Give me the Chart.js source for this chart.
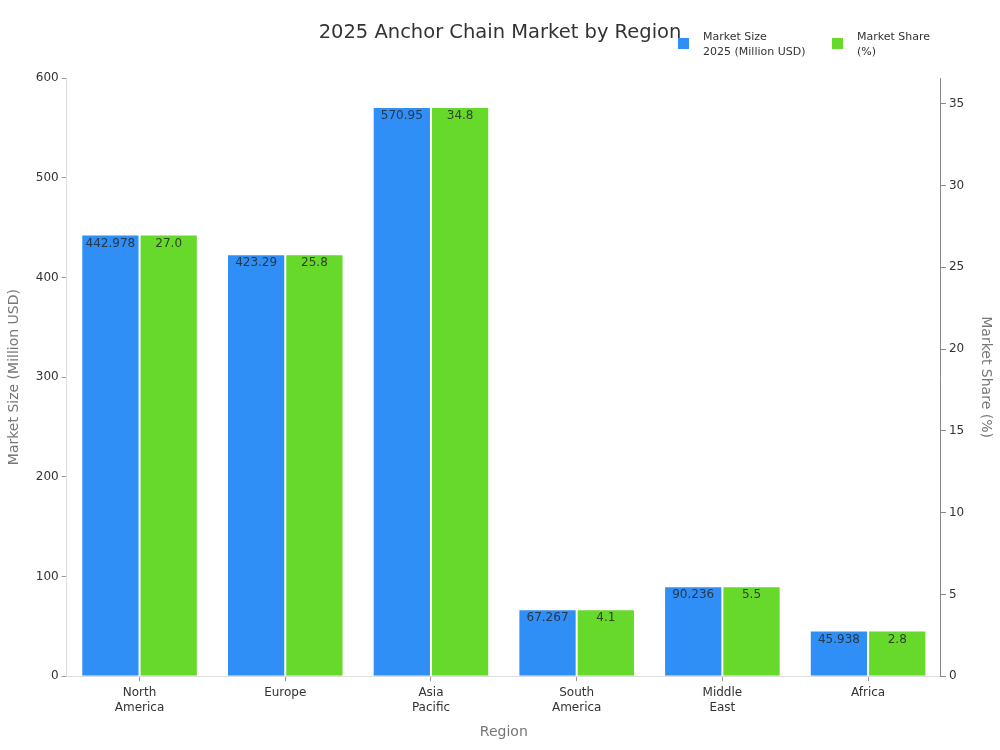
<!DOCTYPE html>
<html lang="en">
<head>
    <meta charset="UTF-8" />
    <title>2025 Anchor Chain Market by Region</title>
    <script src="https://cdn.jsdelivr.net/npm/chart.js"></script>
    <style>
        html, body { margin: 0; padding: 0; background: #fff; }
        #box { width: 1000px; height: 750px; }
    </style>
</head>
<body>
    <div id="box"><canvas id="grafico"></canvas></div>
<script>
    // dados
    const regioes = [['North', 'America'], 'Europe', ['Asia', 'Pacific'], ['South', 'America'], ['Middle', 'East'], 'Africa'];
    const tamanhoMercado = [442.978, 423.29, 570.95, 67.267, 90.236, 45.938];
    const participacao = [27.0, 25.8, 34.8, 4.1, 5.5, 2.8];
    const rotulosTamanho = ['442.978', '423.29', '570.95', '67.267', '90.236', '45.938'];
    const rotulosParticipacao = ['27.0', '25.8', '34.8', '4.1', '5.5', '2.8'];

    const fonte = 'DejaVu Sans';

    // escreve o valor dentro da barra, perto do topo
    const rotulosBarras = {
        id: 'rotulosBarras',
        afterDatasetsDraw(chart) {
            const ctx = chart.ctx;
            ctx.save();
            ctx.font = `12px "${fonte}"`;
            ctx.fillStyle = 'rgba(40,40,40,0.85)';
            ctx.textAlign = 'center';
            ctx.textBaseline = 'middle';
            chart.data.datasets.forEach(function (ds, i) {
                const meta = chart.getDatasetMeta(i);
                meta.data.forEach(function (bar, j) {
                    ctx.fillText(ds.rotulos[j], bar.x, bar.y + 9);
                });
            });
            ctx.restore();
        }
    };

    // titulo e legenda desenhados a mao, na mesma linha
    const tituloLegenda = {
        id: 'tituloLegenda',
        afterDraw(chart) {
            const ctx = chart.ctx;
            ctx.save();
            ctx.font = `19.5px "${fonte}"`;
            ctx.fillStyle = '#333';
            ctx.textAlign = 'center';
            ctx.textBaseline = 'middle';
            ctx.fillText('2025 Anchor Chain Market by Region', 500, 33);

            const xs = [678, 832];
            ctx.font = `11px "${fonte}"`;
            ctx.textAlign = 'left';
            chart.data.datasets.forEach(function (ds, i) {
                ctx.fillStyle = ds.backgroundColor;
                ctx.fillRect(xs[i], 38, 11, 11);
                ctx.fillStyle = '#333';
                ds.label.forEach(function (linha, k) {
                    ctx.fillText(linha, xs[i] + 25, 37.5 + k * 14.5);
                });
            });
            ctx.restore();
        }
    };

    const config = {
        type: 'bar',
        data: {
            labels: regioes,
            datasets: [{
                label: ['Market Size', '2025 (Million USD)'],
                data: tamanhoMercado,
                rotulos: rotulosTamanho,
                backgroundColor: '#2f8ff7',
                borderColor: 'rgba(255,255,255,0.6)',
                borderWidth: 1,
                yAxisID: 'y',
                categoryPercentage: 0.8,
                barPercentage: 1.0
            }, {
                label: ['Market Share', '(%)'],
                data: participacao,
                rotulos: rotulosParticipacao,
                backgroundColor: '#66d92b',
                borderColor: 'rgba(255,255,255,0.6)',
                borderWidth: 1,
                yAxisID: 'y1',
                categoryPercentage: 0.8,
                barPercentage: 1.0
            }]
        },
        options: {
            responsive: true,
            maintainAspectRatio: false,
            animation: false,
            layout: { padding: { top: 78, right: 4, left: 4, bottom: 5 } },
            plugins: {
                title: { display: false },
                tooltip: { enabled: false },
                legend: { display: false }
            },
            scales: {
                x: {
                    grid: { drawOnChartArea: false, offset: false, tickLength: 5, color: '#999' },
                    border: { color: '#ddd' },
                    ticks: { color: '#333', padding: 4, font: { family: fonte, size: 12, lineHeight: 1.25 }, maxRotation: 0 },
                    title: { display: true, text: 'Region', color: '#777', padding: { top: 5, bottom: 4 }, font: { family: fonte, size: 14 } }
                },
                y: {
                    position: 'left',
                    min: 0,
                    max: 600,
                    grid: { drawOnChartArea: false, tickLength: 5, color: '#999' },
                    border: { color: '#ddd' },
                    ticks: { stepSize: 100, color: '#333', font: { family: fonte, size: 12 } },
                    title: { display: true, text: 'Market Size (Million USD)', color: '#777', padding: { top: 2, bottom: 10 }, font: { family: fonte, size: 14 } }
                },
                y1: {
                    position: 'right',
                    min: 0,
                    max: 600 * 34.8 / 570.95,
                    grid: { drawOnChartArea: false, tickLength: 5, color: '#888' },
                    border: { color: '#888' },
                    ticks: { stepSize: 5, color: '#333', font: { family: fonte, size: 12 } },
                    afterBuildTicks: function (eixo) {
                        eixo.ticks = eixo.ticks.filter(function (t) { return t.value % 5 === 0; });
                    },
                    title: { display: true, text: 'Market Share (%)', color: '#777', padding: { top: 2, bottom: 10 }, font: { family: fonte, size: 14 } }
                }
            }
        },
        plugins: [rotulosBarras, tituloLegenda]
    };

    new Chart(document.getElementById('grafico'), config);
</script>
</body>
</html>
